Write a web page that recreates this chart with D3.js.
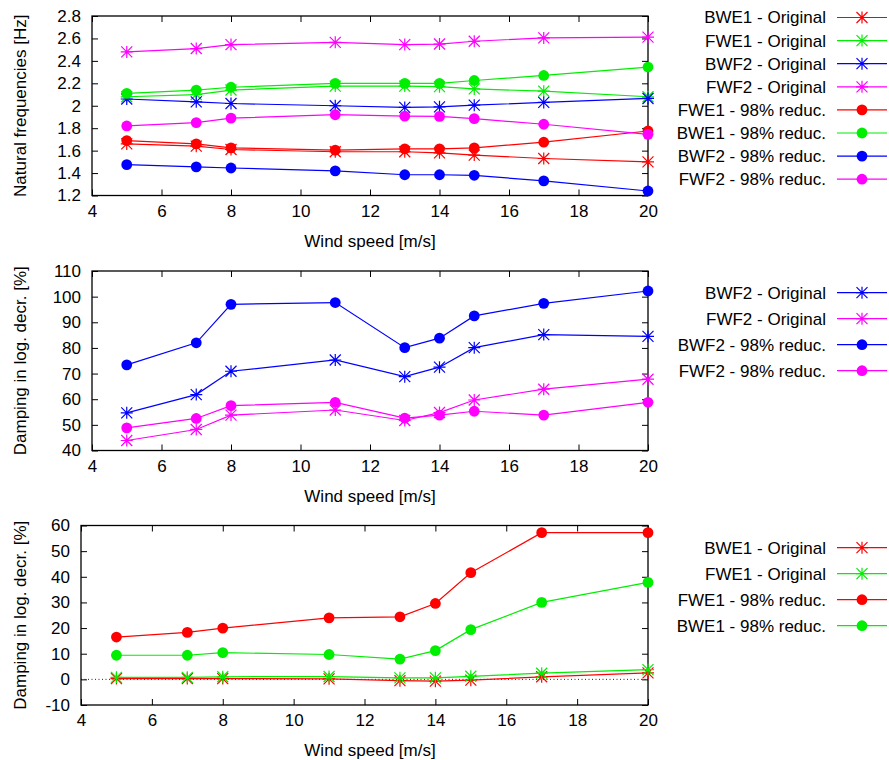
<!DOCTYPE html>
<html>
<head>
<meta charset="utf-8">
<script src="https://cdn.jsdelivr.net/npm/d3@7"></script>
<style>
  body { margin: 0; background: #fff; }
  svg text { font-family: "Liberation Sans", Arial, sans-serif; font-size: 17px; fill: #000; }
</style>
</head>
<body>
<svg id="chart" width="889" height="760"></svg>
<script>
// wind speeds shared by all three panels
var windSpeed = [5, 7, 8, 11, 13, 14, 15, 17, 20];
var xTicks = [4, 6, 8, 10, 12, 14, 16, 18, 20];

// ---- panel 1: natural frequencies [Hz]
var freqBWE1orig = [1.66, 1.64, 1.61, 1.59, 1.59, 1.58, 1.56, 1.53, 1.50];
var freqFWE1orig = [2.08, 2.10, 2.14, 2.175, 2.175, 2.17, 2.15, 2.13, 2.08];
var freqBWF2orig = [2.06, 2.035, 2.02, 2.0, 1.985, 1.99, 2.005, 2.03, 2.065];
var freqFWF2orig = [2.48, 2.51, 2.545, 2.565, 2.545, 2.55, 2.575, 2.605, 2.612];
var freqFWE1red = [1.69, 1.66, 1.625, 1.605, 1.615, 1.615, 1.625, 1.675, 1.775];
var freqBWE1red = [2.11, 2.14, 2.165, 2.2, 2.2, 2.2, 2.225, 2.27, 2.345];
var freqBWF2red = [1.475, 1.455, 1.445, 1.42, 1.385, 1.385, 1.38, 1.33, 1.24];
var freqFWF2red = [1.82, 1.85, 1.89, 1.92, 1.907, 1.905, 1.885, 1.835, 1.745];
var freqTicks = [1.2, 1.4, 1.6, 1.8, 2, 2.2, 2.4, 2.6, 2.8];

// ---- panel 2: flapwise damping [%]
var dampBWF2orig = [54.7, 61.8, 70.9, 75.3, 68.8, 72.5, 80.1, 85.2, 84.5];
var dampFWF2orig = [43.9, 48.2, 53.8, 55.8, 51.7, 54.8, 59.7, 63.9, 67.8];
var dampBWF2red = [73.4, 82.0, 97.0, 97.7, 80.1, 83.8, 92.5, 97.4, 102.2];
var dampFWF2red = [48.8, 52.5, 57.5, 58.8, 52.6, 53.8, 55.3, 53.8, 58.8];
var dampFlapTicks = [40, 50, 60, 70, 80, 90, 100, 110];

// ---- panel 3: edgewise damping [%]
var dampBWE1orig = [0.3, 0.3, 0.3, 0.2, -0.5, -0.7, -0.3, 1.0, 2.5];
var dampFWE1orig = [0.8, 0.8, 1.0, 1.1, 0.6, 0.6, 1.2, 2.4, 3.8];
var dampFWE1red = [16.5, 18.3, 20.0, 24.0, 24.4, 29.6, 41.6, 57.2, 57.2];
var dampBWE1red = [9.4, 9.4, 10.4, 9.7, 7.9, 11.2, 19.4, 30.0, 37.8];
var dampEdgeTicks = [-10, 0, 10, 20, 30, 40, 50, 60];

var RED = "#ff0000", GREEN = "#00ee00", BLUE = "#0000ff", MAGENTA = "#ff00ff";

var panels = [
  {
    top: 16, left: 92, yTicks: freqTicks, ylabel: "Natural frequencies [Hz]",
    legTop: 17.5, legStep: 23.1, zero: false,
    series: [
      { name: "BWE1 - Original", data: freqBWE1orig, color: RED, mark: "star" },
      { name: "FWE1 - Original", data: freqFWE1orig, color: GREEN, mark: "star" },
      { name: "BWF2 - Original", data: freqBWF2orig, color: BLUE, mark: "star" },
      { name: "FWF2 - Original", data: freqFWF2orig, color: MAGENTA, mark: "star" },
      { name: "FWE1 - 98% reduc.", data: freqFWE1red, color: RED, mark: "dot" },
      { name: "BWE1 - 98% reduc.", data: freqBWE1red, color: GREEN, mark: "dot" },
      { name: "BWF2 - 98% reduc.", data: freqBWF2red, color: BLUE, mark: "dot" },
      { name: "FWF2 - 98% reduc.", data: freqFWF2red, color: MAGENTA, mark: "dot" }
    ]
  },
  {
    top: 271, left: 92, yTicks: dampFlapTicks, ylabel: "Damping in log. decr. [%]",
    legTop: 292.7, legStep: 26, zero: false,
    series: [
      { name: "BWF2 - Original", data: dampBWF2orig, color: BLUE, mark: "star" },
      { name: "FWF2 - Original", data: dampFWF2orig, color: MAGENTA, mark: "star" },
      { name: "BWF2 - 98% reduc.", data: dampBWF2red, color: BLUE, mark: "dot" },
      { name: "FWF2 - 98% reduc.", data: dampFWF2red, color: MAGENTA, mark: "dot" }
    ]
  },
  {
    top: 525.5, left: 81, yTicks: dampEdgeTicks, ylabel: "Damping in log. decr. [%]",
    legTop: 547.7, legStep: 26, zero: true,
    series: [
      { name: "BWE1 - Original", data: dampBWE1orig, color: RED, mark: "star" },
      { name: "FWE1 - Original", data: dampFWE1orig, color: GREEN, mark: "star" },
      { name: "FWE1 - 98% reduc.", data: dampFWE1red, color: RED, mark: "dot" },
      { name: "BWE1 - 98% reduc.", data: dampBWE1red, color: GREEN, mark: "dot" }
    ]
  }
];

var svg = d3.select("#chart");
var right = 648, plotH = 179.5;

function drawMark(g, mark, color, cx, cy) {
  if (mark === "dot") {
    g.append("circle").attr("cx", cx).attr("cy", cy).attr("r", 5.4).attr("fill", color);
  } else {
    var s = 6, d = 5.5;
    g.append("path")
      .attr("d", "M" + (cx - s) + "," + cy + "h" + 2 * s +
                 "M" + cx + "," + (cy - s) + "v" + 2 * s +
                 "M" + (cx - d) + "," + (cy - d) + "l" + 2 * d + "," + 2 * d +
                 "M" + (cx - d) + "," + (cy + d) + "l" + 2 * d + "," + (-2 * d))
      .attr("stroke", color).attr("stroke-width", 1.2).attr("fill", "none");
  }
}

panels.forEach(function (p) {
  var x = d3.scaleLinear().domain([4, 20]).range([p.left, right]);
  var y = d3.scaleLinear()
    .domain([p.yTicks[0], p.yTicks[p.yTicks.length - 1]])
    .range([p.top + plotH, p.top]);
  var fmt = function (d) { return String(+d.toFixed(1)); };

  var g = svg.append("g");

  // axes, gnuplot style: inward ticks mirrored on all sides
  g.append("g").attr("transform", "translate(0," + (p.top + plotH) + ")")
    .call(d3.axisBottom(x).tickValues(xTicks).tickFormat(fmt).tickSizeInner(-6).tickSizeOuter(0).tickPadding(9));
  g.append("g").attr("transform", "translate(0," + p.top + ")")
    .call(d3.axisTop(x).tickValues(xTicks).tickFormat("").tickSizeInner(-6).tickSizeOuter(0));
  g.append("g").attr("transform", "translate(" + p.left + ",0)")
    .call(d3.axisLeft(y).tickValues(p.yTicks).tickFormat(fmt).tickSizeInner(-6).tickSizeOuter(0).tickPadding(11));
  g.append("g").attr("transform", "translate(" + right + ",0)")
    .call(d3.axisRight(y).tickValues(p.yTicks).tickFormat("").tickSizeInner(-6).tickSizeOuter(0));
  g.selectAll(".domain").remove();
  g.selectAll(".tick line").attr("stroke", "#000").attr("stroke-width", 1);
  g.selectAll(".tick text").attr("font-size", null).attr("font-family", null);

  if (p.zero) {
    g.append("line")
      .attr("x1", p.left).attr("x2", right)
      .attr("y1", y(0)).attr("y2", y(0))
      .attr("stroke", "#222").attr("stroke-width", 1).attr("stroke-dasharray", "1,2.5");
  }

  g.append("rect")
    .attr("x", p.left).attr("y", p.top)
    .attr("width", right - p.left).attr("height", plotH)
    .attr("fill", "none").attr("stroke", "#000").attr("stroke-width", 1.3);

  // axis titles
  g.append("text")
    .attr("x", (92 + right) / 2).attr("y", p.top + plotH + 51)
    .attr("text-anchor", "middle").text("Wind speed [m/s]");
  g.append("text")
    .attr("transform", "translate(26," + (p.top + plotH / 2) + ") rotate(-90)")
    .attr("text-anchor", "middle").text(p.ylabel);

  var line = d3.line().x(function (d, i) { return x(windSpeed[i]); }).y(function (d) { return y(d); });

  p.series.forEach(function (s, k) {
    var sg = g.append("g");
    sg.append("path").datum(s.data)
      .attr("d", line).attr("fill", "none")
      .attr("stroke", s.color).attr("stroke-width", 1.2);
    s.data.forEach(function (v, i) { drawMark(sg, s.mark, s.color, x(windSpeed[i]), y(v)); });

    // legend entry
    var ly = p.legTop + k * p.legStep;
    g.append("text")
      .attr("x", 826).attr("y", ly).attr("dy", "0.35em")
      .attr("text-anchor", "end").text(s.name);
    g.append("line")
      .attr("x1", 837).attr("x2", 887).attr("y1", ly).attr("y2", ly)
      .attr("stroke", s.color).attr("stroke-width", 1.2);
    drawMark(g, s.mark, s.color, 862, ly);
  });
});
</script>
</body>
</html>
